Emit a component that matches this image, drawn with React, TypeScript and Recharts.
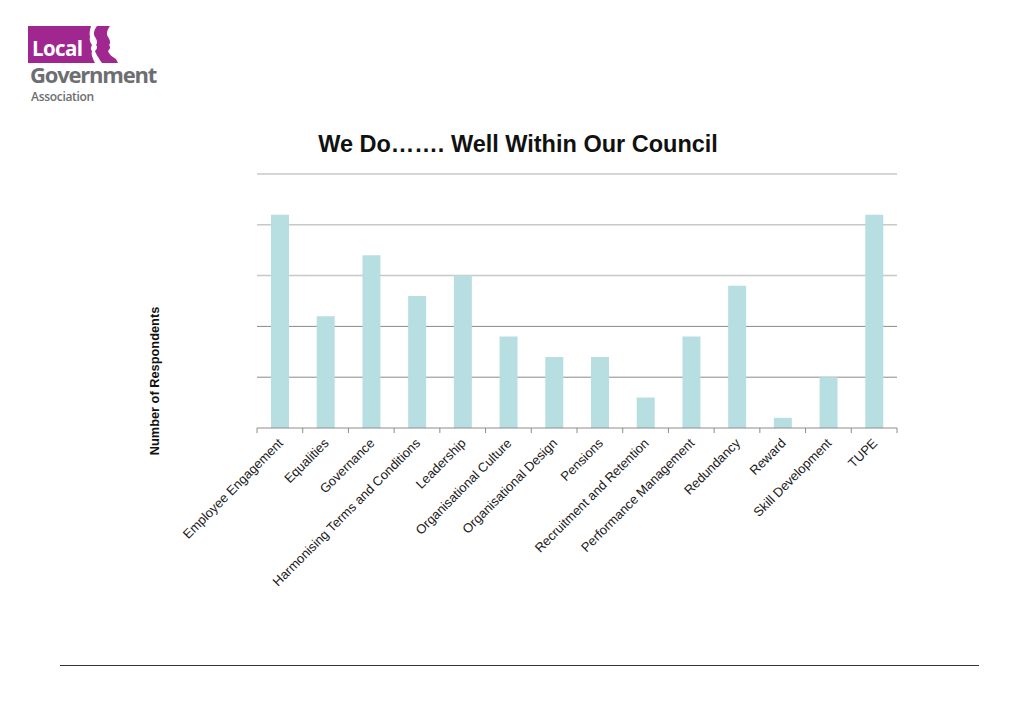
import React from 'react';
import { BarChart, Bar, XAxis, YAxis, CartesianGrid } from 'recharts';

const categories = [
  'Employee Engagement',
  'Equalities',
  'Governance',
  'Harmonising Terms and Conditions',
  'Leadership',
  'Organisational Culture',
  'Organisational Design',
  'Pensions',
  'Recruitment and Retention',
  'Performance Management',
  'Redundancy',
  'Reward',
  'Skill Development',
  'TUPE',
];

const respondents = [21, 11, 17, 13, 15, 9, 7, 7, 3, 9, 14, 1, 5, 21];

const yTicks = [0, 5, 10, 15, 20, 25];

const data = categories.map((name, i) => ({ name, value: respondents[i] }));

const font = '"Liberation Sans", Arial, sans-serif';

const CategoryTick = (props: any) => {
  const { x, y, payload, index } = props;
  const half = payload.offset || 640 / categories.length / 2;
  const tx = x + 4;
  const ty = y + 16;
  return (
    <g>
      <line x1={x - half} y1={y} x2={x - half} y2={y + 5} stroke="#8c8c8c" />
      {index === categories.length - 1 && (
        <line x1={x + half} y1={y} x2={x + half} y2={y + 5} stroke="#8c8c8c" />
      )}
      <text
        x={tx}
        y={ty}
        textAnchor="end"
        transform={`rotate(-45, ${tx}, ${ty})`}
        fontSize={13}
        fill="#1a1a1a"
        fontFamily={font}
      >
        {payload.value}
      </text>
    </g>
  );
};

const Logo = () => (
  <svg width={200} height={110} style={{ position: 'absolute', left: 0, top: 0 }}>
    <rect x={28} y={26} width={78} height={37} fill="#a0278f" />
    <path
      d="M106 26 L110 26 C107 30 106 34 108 37 C110 40 111 43 109 45 C111 47 110 49 108 51 C109 54 112 57 116 59 L118 63 L106 63 Z"
      fill="#a0278f"
    />
    <path
      d="M91 26 L97 26 C94 30 93 34 95 37 C97 40 98 43 96 45 C98 47 97 49 95 51 C96 54 98 57 102 63 L95 63 C92 57 91 54 92 51 C90 49 91 47 92 45 C91 43 89 41 90 37 C89 33 90 30 91 26 Z"
      fill="#ffffff"
    />
    <text x={32} y={56} fontSize={20.5} fontWeight={700} fill="#ffffff" fontFamily='"Open Sans", sans-serif' letterSpacing={-0.6}>
      Local
    </text>
    <text x={30} y={83} fontSize={22} fontWeight={700} fill="#6d6e71" fontFamily='"Open Sans", sans-serif' letterSpacing={-1.2}>
      Government
    </text>
    <text x={31} y={101} fontSize={12} fontWeight={600} fill="#6d6e71" fontFamily='"Open Sans", sans-serif' letterSpacing={-0.3}>
      Association
    </text>
  </svg>
);

export default function App() {
  return (
    <div
      style={{
        position: 'absolute',
        left: 0,
        top: 0,
        width: 1024,
        height: 708,
        background: '#ffffff',
        overflow: 'hidden',
        fontFamily: font,
      }}
    >
      <Logo />
      <div
        style={{
          position: 'absolute',
          left: 0,
          width: 1036,
          top: 131,
          textAlign: 'center',
          fontSize: 23.5,
          fontWeight: 700,
          color: '#111',
          fontFamily: font,
        }}
      >
        We Do……. Well Within Our Council
      </div>
      <div
        style={{
          position: 'absolute',
          left: 154,
          top: 381,
          transform: 'translate(-50%, -50%) rotate(-90deg)',
          whiteSpace: 'nowrap',
          fontSize: 12.8,
          fontWeight: 700,
          color: '#111',
          fontFamily: font,
        }}
      >
        Number of Respondents
      </div>
      <div style={{ position: 'absolute', left: 0, top: 0 }}>
        <BarChart
          width={1024}
          height={708}
          data={data}
          margin={{ top: 174, left: 257, right: 127, bottom: 130 }}
        >
          <CartesianGrid
            vertical={false}
            horizontalValues={[15, 20, 25]}
            stroke="#c8c8c8"
            strokeWidth={1.5}
          />
          <CartesianGrid
            vertical={false}
            horizontalValues={[5, 10]}
            stroke="#8a8a8a"
            strokeWidth={1}
          />
          <XAxis
            dataKey="name"
            interval={0}
            height={150}
            tickLine={false}
            tickSize={0}
            tickMargin={0}
            axisLine={{ stroke: '#8c8c8c' }}
            tick={<CategoryTick />}
          />
          <YAxis hide domain={[0, 25]} ticks={yTicks} />
          <Bar dataKey="value" fill="#b7dfe1" barSize={18} isAnimationActive={false} />
        </BarChart>
      </div>
      <div
        style={{
          position: 'absolute',
          left: 60,
          top: 665,
          width: 919,
          height: 1,
          background: '#333',
        }}
      />
    </div>
  );
}
